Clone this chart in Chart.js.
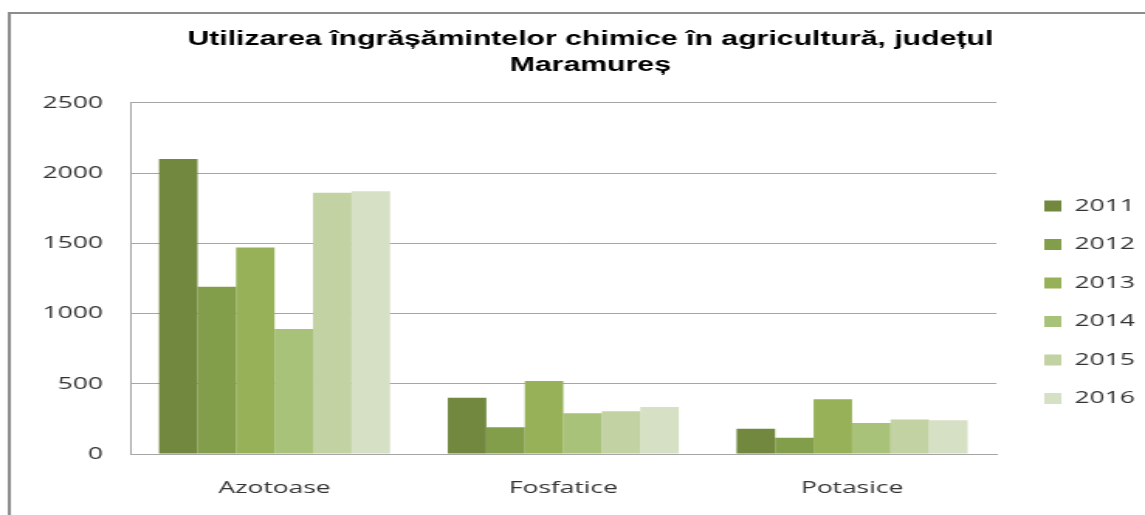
<!DOCTYPE html>
<html>
<head>
<meta charset="utf-8">
<title>Utilizarea îngrășămintelor chimice</title>
<script src="https://cdn.jsdelivr.net/npm/chart.js@4/dist/chart.umd.min.js"></script>
<style>
  html, body { margin: 0; padding: 0; background: #fff; overflow: hidden; }
  /* the reference is stretched sideways, so the chart is drawn narrow and widened */
  #wrap { position: absolute; left: 0; top: 0; width: 739px; height: 515px;
          transform: scaleX(1.5494); transform-origin: 0 0; }
</style>
</head>
<body>
<div id="wrap"><canvas id="myChart"></canvas></div>
<script>
// data
const categories = ['Azotoase', 'Fosfatice', 'Potasice'];
const years = ['2011', '2012', '2013', '2014', '2015', '2016'];
const v2011 = [2100, 400, 180];
const v2012 = [1190, 190, 115];
const v2013 = [1470, 520, 390];
const v2014 = [890, 290, 220];
const v2015 = [1860, 305, 245];
const v2016 = [1870, 335, 240];
const yTicks = [0, 500, 1000, 1500, 2000, 2500];

const seriesValues = [v2011, v2012, v2013, v2014, v2015, v2016];
const colors = ['#71883e', '#839e4b', '#96b157', '#a9c27a', '#c2d2a3', '#d6e0c4'];

// grey frame round the chart (top and left edges visible)
const frame = {
  id: 'frame',
  beforeDraw(chart) {
    const c = chart.ctx;
    c.save();
    c.fillStyle = '#fff';
    c.fillRect(0, 0, chart.width, chart.height);
    c.fillStyle = '#8c8c8c';
    c.fillRect(5, 12, 2, chart.height - 12);
    c.fillRect(5, 12, chart.width - 5, 2);
    c.restore();
  }
};

// put the legend and title where the reference has them
const placeBoxes = {
  id: 'placeBoxes',
  afterLayout(chart) {
    const lg = chart.legend;
    const p = lg.options.labels.padding;
    const w = lg.width;
    lg.left = 674 - p;
    lg.right = lg.left + w;
    const itemH = 17;
    const colH = lg.columnSizes && lg.columnSizes[0] ? lg.columnSizes[0].height : 0;
    const firstTop = (lg.top + p + lg.bottom - colH) / 2;
    const dy = (206 - itemH / 2) - firstTop;
    lg.top += dy;
    lg.bottom += dy;

    const tb = chart.titleBlock;
    const dx = 381 - (tb.left + tb.right) / 2;
    tb.left += dx;
    tb.right += dx;
  }
};

let ctx = document.getElementById('myChart').getContext('2d');
window.chart = new Chart(ctx, {
  type: 'bar',
  data: {
    labels: categories,
    datasets: years.map((y, i) => ({
      label: y,
      data: seriesValues[i],
      backgroundColor: colors[i],
      borderWidth: 0,
      categoryPercentage: 0.8,
      barPercentage: 1.0
    }))
  },
  options: {
    responsive: true,
    maintainAspectRatio: false,
    animation: false,
    devicePixelRatio: 1,
    layout: { padding: { left: 0, right: 6, top: 0, bottom: 0 } },
    plugins: {
      title: {
        display: true,
        text: ['Utilizarea îngrășămintelor chimice în agricultură, județul', 'Maramureș'],
        color: '#000',
        font: { family: '"Liberation Sans", Arial, sans-serif', size: 19.5, weight: 'bold', lineHeight: 1.33 },
        padding: { top: 27, bottom: 24 }
      },
      legend: {
        position: 'right',
        labels: {
          boxWidth: 11,
          boxHeight: 11,
          padding: 21.5,
          color: '#333',
          font: { family: '"Open Sans", sans-serif', size: 17 }
        }
      },
      tooltip: { enabled: false }
    },
    scales: {
      x: {
        afterFit(scale) { scale.height = 61; },
        grid: { display: false, drawTicks: false },
        border: { display: true, color: '#a6a6a6', width: 1 },
        ticks: { color: '#333', padding: 24, font: { family: '"Open Sans", sans-serif', size: 17 } }
      },
      y: {
        min: 0,
        max: 2500,
        afterFit(scale) { scale.width = 84; },
        afterBuildTicks(scale) { scale.ticks = yTicks.map(v => ({ value: v })); },
        grid: { color: '#a6a6a6', lineWidth: 1, drawTicks: false },
        border: { display: true, color: '#a6a6a6', width: 1 },
        ticks: {
          color: '#333',
          padding: 17.5,
          font: { family: '"Open Sans", sans-serif', size: 17 },
          callback: v => String(v)
        }
      }
    }
  },
  plugins: [frame, placeBoxes]
});
</script>
</body>
</html>
